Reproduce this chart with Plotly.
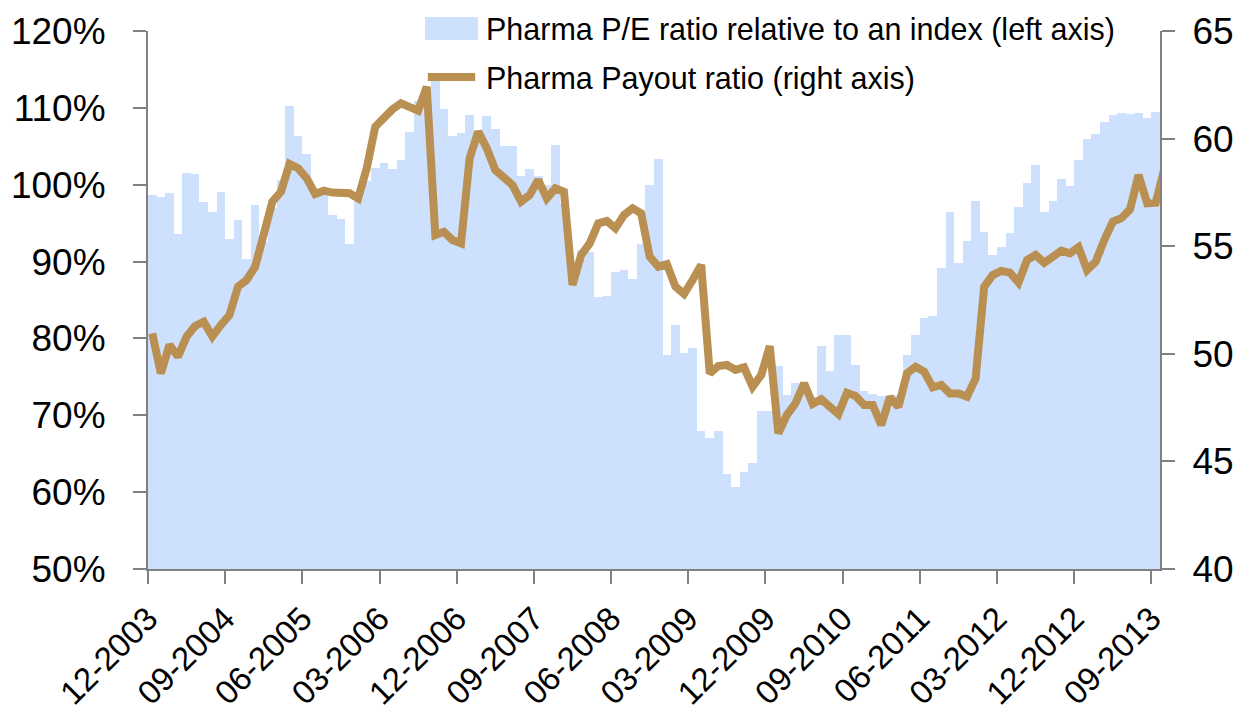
import plotly.graph_objects as go

# ---------------- data ----------------
tick_labels = ["12-2003", "09-2004", "06-2005", "03-2006", "12-2006", "09-2007", "06-2008",
               "03-2009", "12-2009", "09-2010", "06-2011", "03-2012", "12-2012", "09-2013"]

# Pharma P/E relative to index (%), monthly from 12-2003
pe_relative = [
    98.6, 98.4, 98.9, 93.6, 101.5, 101.4, 97.8, 96.5, 99.0, 92.9,
    95.4, 90.4, 97.3, 92.5, 97.0, 100.6, 110.2, 106.3, 104.0, 99.2,
    99.0, 96.0, 95.5, 92.3, 98.0, 100.5, 102.2, 102.8, 102.0, 103.2,
    106.8, 110.9, 111.5, 114.0, 109.9, 106.4, 106.7, 109.1, 107.0, 108.9,
    107.3, 105.0, 105.0, 101.1, 102.1, 101.1, 100.0, 105.2, 97.5, 88.8,
    91.5, 91.2, 85.4, 85.5, 88.7, 88.9, 87.7, 92.3, 100.0, 103.4,
    77.9, 81.8, 78.1, 78.8, 67.9, 67.0, 68.0, 62.4, 60.7, 62.6,
    63.8, 70.5, 70.5, 76.4, 72.6, 74.2, 73.9, 72.4, 79.0, 75.7,
    80.5, 80.4, 76.6, 73.2, 72.8, 72.5, 72.6, 72.6, 77.8, 80.4,
    82.7, 82.9, 89.2, 96.5, 89.8, 92.7, 97.9, 93.8, 90.8, 91.9,
    93.7, 97.1, 100.2, 102.6, 96.5, 97.9, 100.7, 99.8, 103.2, 106.0,
    106.6, 108.2, 109.1, 109.3, 109.2, 109.3, 108.7, 109.4, 113.0,
]

# Pharma payout ratio (right axis)
payout_ratio = [
    50.95, 49.09, 50.41, 49.87, 50.80, 51.29, 51.49, 50.80, 51.34, 51.80,
    53.12, 53.43, 54.05, 55.60, 57.07, 57.53, 58.82, 58.62, 58.16, 57.43,
    57.58, 57.49, 57.46, 57.46, 57.22, 58.62, 60.55, 61.02, 61.36, 61.64,
    61.51, 61.30, 62.41, 55.52, 55.67, 55.29, 55.13, 59.08, 60.32, 59.55,
    58.54, 58.16, 57.84, 57.07, 57.38, 58.08, 57.22, 57.69, 57.53, 53.20,
    54.59, 55.13, 56.06, 56.17, 55.83, 56.45, 56.76, 56.53, 54.51, 54.05,
    54.17, 53.12, 52.78, 53.43, 54.13, 49.09, 49.43, 49.48, 49.25, 49.37,
    48.47, 49.01, 50.36, 46.30, 47.16, 47.70, 48.63, 47.67, 47.89, 47.54,
    47.20, 48.19, 48.04, 47.62, 47.62, 46.69, 47.98, 47.54, 49.09, 49.40,
    49.17, 48.44, 48.55, 48.16, 48.16, 48.01, 48.86, 53.12, 53.66, 53.85,
    53.77, 53.31, 54.36, 54.59, 54.23, 54.51, 54.79, 54.67, 54.95, 53.89,
    54.28, 55.29, 56.14, 56.30, 56.71, 58.31, 56.99, 57.02, 58.60,
]

bar_name = "Pharma P/E ratio relative to an index (left axis)"
line_name = "Pharma Payout ratio (right axis)"

# ---------------- styling ----------------
FONT = "Liberation Sans Narrow, Arial Narrow, Liberation Sans, Arial, sans-serif"
BAR_COLOR = "#CDE0FD"
LINE_COLOR = "#BA9052"
AXIS_COLOR = "#808080"

month_pos = [i + 0.5 for i in range(len(pe_relative))]
tick_pos = [9 * i for i in range(len(tick_labels))]

fig = go.Figure()
fig.add_trace(go.Bar(
    x=month_pos, y=[v - 50 for v in pe_relative], base=50,
    width=1.0, marker=dict(color=BAR_COLOR, line=dict(width=0)),
    name=bar_name, showlegend=False, yaxis="y",
))
fig.add_trace(go.Scatter(
    x=month_pos, y=payout_ratio, mode="lines",
    line=dict(color=LINE_COLOR, width=8, shape="linear"),
    name=line_name, showlegend=False, yaxis="y2",
))

axis_common = dict(
    showgrid=False, zeroline=False, showline=True, linecolor=AXIS_COLOR, linewidth=2,
    ticks="outside", ticklen=13, tickwidth=2, tickcolor=AXIS_COLOR,
)

# page body has an 8px default margin -> margins compensate so the plot area
# sits at x 148..1160, y 31..569 in the window
fig.update_layout(
    width=1258, height=710,
    margin=dict(l=140, r=106, t=23, b=149, autoexpand=False),
    paper_bgcolor="white", plot_bgcolor="white",
    font=dict(family=FONT, color="black"),
    bargap=0, showlegend=False,
    xaxis=dict(
        range=[0, 118], tickmode="array", tickvals=tick_pos, ticktext=tick_labels,
        tickangle=-45, tickfont=dict(size=33, family=FONT), ticklabelstandoff=2,
        **axis_common,
    ),
    yaxis=dict(
        range=[50, 120], tickmode="linear", tick0=50, dtick=10, ticksuffix="%",
        tickfont=dict(size=37, family=FONT), ticklabelstandoff=20,
        **axis_common,
    ),
    yaxis2=dict(
        range=[40, 65], tickmode="linear", tick0=40, dtick=5, overlaying="y", side="right",
        tickfont=dict(size=37, family=FONT), ticklabelstandoff=10,
        **axis_common,
    ),
)

# Custom legend (large swatches like the original)
fig.add_shape(type="rect", xref="paper", yref="paper",
              x0=0.2737, x1=0.3261, y0=0.9833, y1=1.026,
              fillcolor=BAR_COLOR, line=dict(width=0), layer="above")
fig.add_shape(type="line", xref="paper", yref="paper",
              x0=0.2765, x1=0.3233, y0=0.9145, y1=0.9145,
              line=dict(color=LINE_COLOR, width=8), layer="above")
fig.add_annotation(xref="paper", yref="paper", x=0.332, y=1.002, xanchor="left", yanchor="middle",
                   text=bar_name, showarrow=False, font=dict(size=30.5, family=FONT, color="black"))
fig.add_annotation(xref="paper", yref="paper", x=0.332, y=0.9126, xanchor="left", yanchor="middle",
                   text=line_name, showarrow=False, font=dict(size=30.5, family=FONT, color="black"))

fig.write_html("out.html")
